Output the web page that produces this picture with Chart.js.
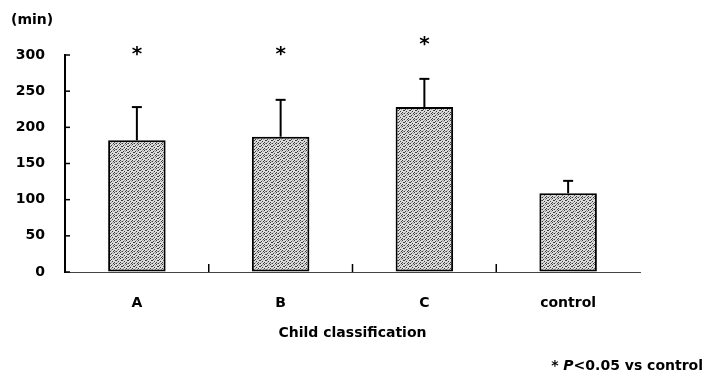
<!DOCTYPE html>
<html>
<head>
<meta charset="utf-8">
<script src="https://cdn.jsdelivr.net/npm/chart.js@4/dist/chart.umd.min.js"></script>
<style>
  html, body { margin: 0; padding: 0; background: #fff; }
  #wrap { width: 708px; height: 385px; position: relative; }
</style>
</head>
<body>
<div id="wrap"><canvas id="c" width="708" height="385"></canvas></div>
<script>
// ---- data ----
const categories = ["A", "B", "C", "control"];
const meanMinutes = [182, 187, 228, 109];
const sdMinutes = [46, 51, 39, 17];
const significant = [true, true, true, false];
const starLevels = [306, 306, 320, null];
const yTicks = [0, 50, 100, 150, 200, 250, 300];
const yUnitLabel = "(min)";
const xTitle = "Child classification";
const footnoteStar = "* ";
const footnoteP = "P";
const footnoteRest = "<0.05 vs control";

const FONT = "'DejaVu Sans', 'Liberation Sans', Arial, sans-serif";

// stipple pattern for bars
function makePattern() {
  const p = document.createElement('canvas');
  p.width = 6; p.height = 6;
  const g = p.getContext('2d');
  g.fillStyle = '#dcdcdc';
  g.fillRect(0, 0, 6, 6);
  g.fillStyle = '#3a3a3a';
  const dots = [[0,0],[3,1],[1,2],[4,3],[0,4],[2,5],[5,5],[2,2]];
  dots.forEach(([x, y]) => g.fillRect(x, y, 1, 1));
  g.fillStyle = '#9a9a9a';
  [[5,1],[1,5],[4,0],[3,4]].forEach(([x, y]) => g.fillRect(x, y, 1, 1));
  return document.getElementById('c').getContext('2d').createPattern(p, 'repeat');
}

const decorPlugin = {
  id: 'decor',
  afterDatasetsDraw(chart) {
    const ctx = chart.ctx;
    const x = chart.scales.x, y = chart.scales.y;
    const area = chart.chartArea;
    const meta = chart.getDatasetMeta(0);
    ctx.save();
    // error bars
    ctx.strokeStyle = '#000';
    ctx.lineWidth = 2;
    meta.data.forEach((bar, i) => {
      const cx = bar.x;
      const yTop = y.getPixelForValue(meanMinutes[i]);
      const yErr = y.getPixelForValue(meanMinutes[i] + sdMinutes[i]);
      ctx.beginPath();
      ctx.moveTo(cx, yTop);
      ctx.lineTo(cx, yErr);
      ctx.stroke();
      ctx.beginPath();
      ctx.moveTo(cx - 5, yErr);
      ctx.lineTo(cx + 5, yErr);
      ctx.stroke();
    });
    // significance stars
    ctx.fillStyle = '#000';
    ctx.font = 'bold 20px ' + FONT;
    ctx.textAlign = 'center';
    ctx.textBaseline = 'middle';
    meta.data.forEach((bar, i) => {
      if (significant[i]) {
        ctx.fillText('*', bar.x, y.getPixelForValue(starLevels[i]) + 4);
      }
    });
    // y tick marks (inward)
    ctx.lineWidth = 1.5;
    yTicks.forEach(v => {
      const py = y.getPixelForValue(v);
      ctx.beginPath();
      ctx.moveTo(area.left, py);
      ctx.lineTo(area.left + 5, py);
      ctx.stroke();
    });
    // x category boundary marks (upward)
    for (let i = 0; i < categories.length - 1; i++) {
      const px = (x.getPixelForTick(i) + x.getPixelForTick(i + 1)) / 2;
      ctx.beginPath();
      ctx.moveTo(px, area.bottom);
      ctx.lineTo(px, area.bottom - 8);
      ctx.stroke();
    }
    // unit label
    ctx.font = 'bold 14px ' + FONT;
    ctx.textAlign = 'left';
    ctx.textBaseline = 'middle';
    ctx.fillText(yUnitLabel, 11, 20);
    // footnote
    const right = 703, fy = 366;
    ctx.font = 'bold 14px ' + FONT;
    const wRest = ctx.measureText(footnoteRest).width;
    ctx.font = 'italic bold 14px ' + FONT;
    const wP = ctx.measureText(footnoteP).width;
    ctx.font = 'bold 14px ' + FONT;
    const wStar = ctx.measureText(footnoteStar).width;
    let fx = right - wRest - wP - wStar;
    ctx.fillText(footnoteStar, fx, fy);
    fx += wStar;
    ctx.font = 'italic bold 14px ' + FONT;
    ctx.fillText(footnoteP, fx, fy);
    fx += wP;
    ctx.font = 'bold 14px ' + FONT;
    ctx.fillText(footnoteRest, fx, fy);
    ctx.restore();
  }
};

new Chart(document.getElementById('c'), {
  type: 'bar',
  data: {
    labels: categories,
    datasets: [{
      data: meanMinutes,
      backgroundColor: makePattern(),
      borderColor: '#000',
      borderWidth: 2,
      borderSkipped: false,
      barPercentage: 0.4,
      categoryPercentage: 1.0
    }]
  },
  options: {
    responsive: false,
    animation: false,
    devicePixelRatio: 1,
    layout: { padding: { top: 55, right: 68, bottom: 0, left: 0 } },
    plugins: {
      legend: { display: false },
      tooltip: { enabled: false },
      title: { display: false }
    },
    scales: {
      x: {
        grid: { display: true, drawOnChartArea: false, drawTicks: false },
        border: { display: true, color: '#444', width: 1, dash: [6, 2] },
        ticks: {
          color: '#000',
          font: { family: FONT, size: 14, weight: 'bold' },
          padding: 23
        },
        title: {
          display: true,
          text: xTitle,
          color: '#000',
          font: { family: FONT, size: 14, weight: 'bold' },
          padding: { top: 0, bottom: 43.6 }
        },
        afterFit(scale) { scale.height = 113; }
      },
      y: {
        min: 0,
        max: 300,
        grid: { display: true, drawOnChartArea: false, drawTicks: false },
        border: { display: true, color: '#000', width: 2 },
        afterBuildTicks(scale) { scale.ticks = yTicks.map(v => ({ value: v })); },
        ticks: {
          color: '#000',
          font: { family: FONT, size: 14, weight: 'bold' },
          padding: 20
        },
        afterFit(scale) { scale.width = 65; }
      }
    }
  },
  plugins: [decorPlugin]
});
</script>
</body>
</html>
